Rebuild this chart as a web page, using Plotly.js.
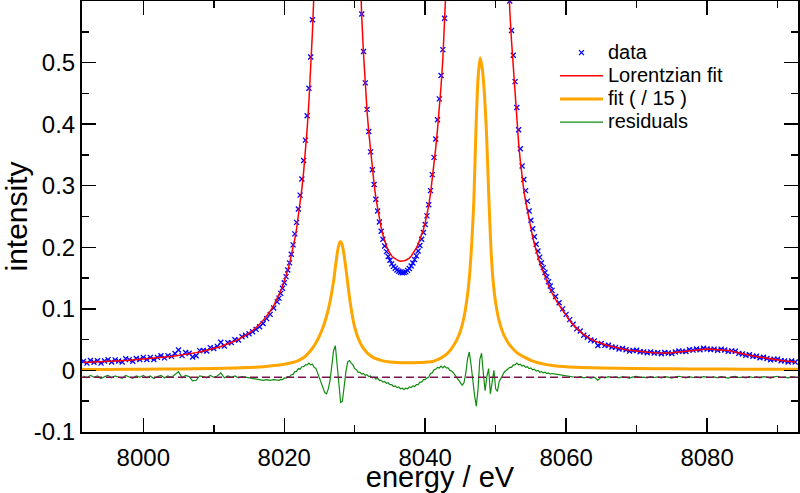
<!DOCTYPE html>
<html><head><meta charset="utf-8">
<script src="https://cdn.plot.ly/plotly-3.0.1.min.js"></script>
<style>html,body{margin:0;padding:0;background:#fff;} #chart{width:800px;height:493px;}</style>
</head><body><div id="chart"></div>
<script>
// energy grid of the measured points (eV)
const energy = [
7991.5,7992,7992.5,7993,7993.5,7994,7994.5,7995,7995.5,7996,7996.5,7997,7997.5,7998,7998.5,7999,7999.5,
8000,8000.5,8001,8001.5,8002,8002.5,8003,8003.5,8004,8004.5,8005,8005.5,8006,8006.5,8007,8007.5,8008,8008.5,8009,8009.5,
8010,8010.5,8011,8011.5,8012,8012.5,8013,8013.5,8014,8014.5,8015,8015.5,8016,8016.5,8017,8017.5,8018,8018.5,8019,
8019.25,8019.5,8019.75,
8020,8020.25,8020.5,8020.75,8021,8021.25,8021.5,8021.75,8022,8022.25,8022.5,8022.75,8023,8023.25,8023.5,8023.75,
8024,8024.25,8024.5,8024.75,8025,8025.25,8025.5,8025.75,8026,8026.25,8026.5,8026.75,8027,8027.25,8027.5,8027.75,
8028,8028.25,8028.5,8028.75,8029,8029.25,8029.5,8029.75,8030,8030.25,8030.5,8030.75,8031,8031.25,8031.5,8031.75,
8032,8032.25,8032.5,8032.75,8033,8033.25,8033.5,8033.75,8034,8034.25,8034.5,8034.75,8035,8035.25,8035.5,8035.75,
8036,8036.25,8036.5,8036.75,8037,8037.25,8037.5,8037.75,8038,8038.25,8038.5,8038.75,8039,8039.25,8039.5,8039.75,
8040,8040.25,8040.5,8040.75,8041,8041.25,8041.5,8041.75,8042,8042.25,8042.5,8042.75,8043,8043.25,8043.5,8043.75,
8044,8044.25,8044.5,8044.75,8045,8045.25,8045.5,8045.75,8046,8046.25,8046.5,8046.75,8047,8047.25,8047.5,8047.75,
8048,8048.25,8048.5,8048.75,8049,8049.25,8049.5,8049.75,8050,8050.25,8050.5,8050.75,8051,8051.25,8051.5,8051.75,
8052,8052.25,8052.5,8052.75,8053,8053.25,8053.5,8053.75,8054,8054.25,8054.5,8054.75,8055,8055.25,8055.5,8055.75,
8056,8056.25,8056.5,8056.75,8057,8057.25,8057.5,8057.75,8058,
8058.5,8059,8059.5,8060,8060.5,8061,8061.5,8062,8062.5,8063,8063.5,8064,8064.5,8065,8065.5,8066,8066.5,8067,8067.5,
8068,8068.5,8069,8069.5,8070,8070.5,8071,8071.5,8072,8072.5,8073,8073.5,8074,8074.5,8075,8075.5,8076,8076.5,8077,8077.5,
8078,8078.5,8079,8079.5,8080,8080.5,8081,8081.5,8082,8082.5,8083,8083.5,8084,8084.5,8085,8085.5,8086,8086.5,8087,8087.5,
8088,8088.5,8089,8089.5,8090,8090.5,8091,8091.5,8092,8092.5];

// measured intensity (blue crosses)
const measured = [
0.0147,0.0119,0.0161,0.0134,0.0156,0.0119,0.0152,0.0175,0.0138,0.0171,0.0154,0.0138,0.0191,0.0175,0.0149,0.0193,0.0177,
0.0212,0.0177,0.0212,0.0177,0.0212,0.0238,0.0204,0.0241,0.0228,0.0275,0.0333,0.0241,0.0290,0.0279,0.0219,0.0239,0.0321,0.0323,0.0316,0.0370,
0.0355,0.0391,0.0459,0.0398,0.0449,0.0452,0.0497,0.0495,0.0546,0.0570,0.0597,0.0629,0.0667,0.0710,0.0761,0.0841,0.0911,0.1014,0.1113,
0.1174,0.1251,0.1335,
0.1425,0.1523,0.1630,0.1747,0.1887,0.2039,0.2218,0.2404,0.2623,0.2847,0.3110,0.3410,0.3741,0.4136,0.4584,0.5091,
0.5695,0.6404,0.7266,0.828,0.955,1.112,1.314,1.578,1.926,2.364,2.908,3.552,4.186,4.684,4.852,4.624,
4.112,3.504,2.919,2.412,1.998,1.650,1.386,1.162,0.988,0.851,0.741,0.652,0.579,0.518,0.467,0.424,
0.388,0.355,0.326,0.302,0.278,0.259,0.241,0.226,0.213,0.202,0.193,0.185,0.179,0.173,0.169,0.166,
0.163,0.161,0.1595,0.1585,0.159,0.160,0.1625,0.1655,0.1695,0.1745,0.180,0.186,0.194,0.203,0.213,0.224,
0.237,0.251,0.269,0.292,0.318,0.346,0.376,0.407,0.441,0.479,0.521,0.572,0.631,0.699,0.777,0.870,
0.978,1.103,1.258,1.444,1.691,1.987,2.391,2.906,3.529,4.241,4.971,5.693,6.321,6.903,7.381,7.629,
7.539,7.106,6.478,5.801,5.014,4.173,3.441,2.811,2.281,1.857,1.543,1.279,1.075,0.909,0.781,0.678,
0.600,0.552,0.512,0.469,0.427,0.391,0.360,0.332,0.310,0.292,0.275,0.259,0.244,0.230,0.217,0.205,
0.194,0.184,0.175,0.167,0.159,0.152,0.144,0.137,0.130,
0.120,0.110,0.100,0.091,0.0825,0.075,0.0675,0.064,0.057,0.054,0.0495,0.048,0.0405,0.044,0.0407,0.041,0.038,0.0375,0.0348,
0.0357,0.0337,0.0313,0.0325,0.0328,0.0302,0.0301,0.0286,0.0301,0.0282,0.0289,0.0272,0.0292,0.0284,0.0273,0.0299,0.0316,0.0309,0.0308,0.0337,
0.0330,0.0347,0.0337,0.0359,0.0348,0.0340,0.0346,0.0328,0.0346,0.0333,0.0310,0.0317,0.0312,0.0277,0.0268,0.0246,0.0255,0.0230,0.0230,0.0205,
0.0215,0.0195,0.0171,0.0182,0.0184,0.0157,0.0155,0.0138,0.0152,0.0136];

// Lorentzian fit (red)
const lorentzFit = [
0.0127,0.0129,0.0131,0.0134,0.0136,0.0139,0.0142,0.0145,0.0148,0.0151,0.0154,0.0158,0.0161,0.0165,0.0169,0.0173,0.0177,
0.0182,0.0187,0.0192,0.0197,0.0202,0.0208,0.0214,0.0221,0.0228,0.0235,0.0243,0.0251,0.0260,0.0269,0.0279,0.0289,0.0301,0.0313,0.0326,0.0340,
0.0355,0.0371,0.0389,0.0408,0.0429,0.0452,0.0477,0.0505,0.0536,0.0570,0.0607,0.0649,0.0697,0.0750,0.0811,0.0881,0.0961,0.1054,0.1163,
0.1224,0.1291,0.1365,
0.1445,0.1533,0.1630,0.1737,0.1857,0.1989,0.2138,0.2304,0.2493,0.2707,0.2950,0.3230,0.3551,0.3926,0.4364,0.4881,
0.5495,0.6234,0.7126,0.822,0.957,1.123,1.333,1.603,1.953,2.383,2.913,3.533,4.143,4.633,4.833,4.643,
4.153,3.543,2.933,2.403,1.973,1.623,1.363,1.143,0.973,0.840,0.732,0.645,0.573,0.513,0.463,0.421,
0.386,0.354,0.326,0.303,0.280,0.262,0.245,0.232,0.220,0.210,0.202,0.195,0.190,0.186,0.183,0.181,
0.179,0.178,0.1775,0.1775,0.178,0.179,0.1805,0.1825,0.1855,0.1895,0.194,0.199,0.205,0.212,0.220,0.229,
0.240,0.253,0.268,0.287,0.310,0.335,0.362,0.392,0.425,0.462,0.505,0.555,0.615,0.685,0.765,0.860,
0.970,1.10,1.26,1.45,1.70,2.00,2.40,2.90,3.50,4.20,4.95,5.70,6.35,6.95,7.40,7.60,
7.50,7.10,6.50,5.80,5.00,4.20,3.45,2.80,2.30,1.88,1.55,1.28,1.07,0.90,0.77,0.665,
0.585,0.535,0.493,0.448,0.405,0.370,0.340,0.313,0.292,0.275,0.259,0.244,0.230,0.217,0.205,0.194,
0.184,0.175,0.167,0.159,0.152,0.145,0.138,0.131,0.125,
0.115,0.106,0.097,0.089,0.081,0.074,0.068,0.063,0.058,0.054,0.051,0.048,0.0455,0.0435,0.0417,0.040,0.0385,0.037,0.0358,
0.0347,0.0337,0.0328,0.032,0.0313,0.0307,0.0301,0.0296,0.0291,0.0287,0.0284,0.0282,0.0282,0.0284,0.0288,0.0294,0.0301,0.0309,0.0318,0.0327,
0.0335,0.0342,0.0347,0.0349,0.0348,0.0345,0.0341,0.0338,0.0336,0.0333,0.0325,0.0312,0.0297,0.0282,0.0268,0.0256,0.0245,0.0235,0.0225,0.0215,
0.0205,0.0195,0.0186,0.0177,0.0169,0.0162,0.0155,0.0148,0.0142,0.0136];

// residuals (green), shown around the offset baseline
const residuals = [
-0.009,-0.012,-0.008,-0.011,-0.009,-0.013,-0.010,-0.008,-0.012,-0.009,-0.011,-0.013,-0.008,-0.010,-0.013,-0.009,-0.011,
-0.008,-0.012,-0.009,-0.013,-0.010,-0.008,-0.012,-0.009,-0.011,-0.007,-0.002,-0.012,-0.008,-0.010,-0.017,-0.016,-0.009,-0.010,-0.012,-0.008,
-0.011,-0.009,-0.004,-0.012,-0.009,-0.011,-0.009,-0.012,-0.010,-0.011,-0.012,-0.013,-0.014,-0.015,-0.016,-0.015,-0.016,-0.015,-0.016,
-0.016,-0.0145,-0.015,
-0.012,-0.0125,-0.010,-0.0105,-0.007,-0.0065,-0.002,-0.0015,0.003,0.002,0.006,0.006,0.009,0.009,0.012,0.009,
0.010,0.005,0.003,-0.005,-0.013,-0.022,-0.030,-0.036,-0.038,-0.030,-0.016,0.008,0.032,0.040,0.008,-0.030,
-0.052,-0.050,-0.025,-0.002,0.014,0.016,0.012,0.009,0.003,0.001,-0.003,-0.003,-0.006,-0.005,-0.008,-0.007,
-0.010,-0.009,-0.012,-0.011,-0.014,-0.013,-0.016,-0.016,-0.019,-0.018,-0.021,-0.020,-0.023,-0.023,-0.026,-0.025,
-0.028,-0.027,-0.030,-0.029,-0.031,-0.029,-0.030,-0.027,-0.028,-0.025,-0.026,-0.023,-0.023,-0.019,-0.019,-0.015,
-0.015,-0.012,-0.011,-0.005,-0.004,0.001,0.002,0.005,0.004,0.007,0.004,0.007,0.004,0.004,0.000,-0.001,
-0.004,-0.008,-0.013,-0.017,-0.020,-0.024,-0.020,-0.005,0.018,0.030,0.010,-0.018,-0.040,-0.058,-0.030,0.018,
0.028,-0.005,-0.033,-0.010,0.003,-0.038,-0.020,0.000,-0.030,-0.034,-0.018,-0.012,-0.006,-0.002,0.000,0.002,
0.005,0.005,0.009,0.009,0.012,0.009,0.010,0.007,0.008,0.005,0.006,0.003,0.004,0.001,0.002,-0.001,
0.000,-0.003,-0.002,-0.004,-0.003,-0.005,-0.004,-0.006,-0.005,
-0.006,-0.007,-0.008,-0.009,-0.0095,-0.010,-0.0115,-0.010,-0.012,-0.011,-0.0125,-0.011,-0.016,-0.0105,-0.012,-0.010,-0.0115,-0.0105,-0.012,
-0.010,-0.011,-0.0125,-0.0105,-0.0095,-0.0115,-0.011,-0.012,-0.010,-0.0115,-0.0105,-0.012,-0.010,-0.011,-0.0125,-0.0105,-0.0095,-0.011,-0.012,-0.010,
-0.0115,-0.0105,-0.012,-0.010,-0.011,-0.0115,-0.0105,-0.012,-0.010,-0.011,-0.0125,-0.0105,-0.0095,-0.0115,-0.011,-0.012,-0.010,-0.0115,-0.0105,-0.012,
-0.010,-0.011,-0.0125,-0.0105,-0.0095,-0.0115,-0.011,-0.012,-0.010,-0.011];
const residualBaseline = -0.011;

// fit divided by 15 (orange)
const scaledFitEnergy = [7991.3,7995,8000,8005,8010,8013,8015,8017,8018,8019,8020,8021,8022,8023,8023.5,8024,8024.5,8025,8025.5,8026,8026.5,8027,8027.3,8027.6,8027.9,8028.1,8028.4,8028.7,8029,8029.3,8029.6,8030,8030.5,8031,8031.5,8032,8032.5,8033,8034,8035,8036,8037,8038,8039,8040,8041,8041.5,8042,8042.5,8043,8043.5,8044,8044.5,8045,8045.5,8046,8046.3,8046.6,8046.9,8047.2,8047.5,8047.8,8048.1,8048.4,8048.7,8049,8049.3,8049.6,8050,8050.5,8051,8051.5,8052,8053,8054,8055,8056,8057,8058,8060,8062,8065,8070,8075,8080,8085,8092.9];
const scaledFit = [0.0015,0.0017,0.002,0.0024,0.003,0.0038,0.0046,0.006,0.0072,0.0085,0.0102,0.0125,0.016,0.023,0.029,0.036,0.045,0.056,0.07,0.088,0.112,0.145,0.172,0.196,0.209,0.208,0.194,0.17,0.142,0.115,0.093,0.07,0.052,0.04,0.032,0.026,0.022,0.019,0.0155,0.0138,0.0128,0.0124,0.0124,0.0127,0.0133,0.0145,0.0163,0.0188,0.022,0.026,0.032,0.040,0.050,0.064,0.086,0.122,0.155,0.205,0.275,0.39,0.475,0.508,0.49,0.45,0.385,0.29,0.205,0.15,0.11,0.08,0.062,0.05,0.041,0.029,0.022,0.0165,0.0125,0.0098,0.008,0.0058,0.0047,0.0038,0.003,0.0026,0.0023,0.0021,0.0018];

const xTickVals = [8000, 8020, 8040, 8060, 8080];
const xTickText = ['8000', '8020', '8040', '8060', '8080'];
const yTickVals = [-0.1, 0, 0.1, 0.2, 0.3, 0.4, 0.5];
const yTickText = ['-0.1', '0', '0.1', '0.2', '0.3', '0.4', '0.5'];
const seriesNames = ['data', 'Lorentzian fit', 'fit ( / 15 )', 'residuals'];

const FONT = 'Liberation Sans, Arial, Helvetica, sans-serif';
const legendLabel = s => '<span style="font-size:20px">' + s + '</span>';

const traces = [
  {type:'scatter', mode:'markers', name:legendLabel(seriesNames[0]), x:energy, y:measured,
   marker:{symbol:'x-thin-open', size:5, color:'#0000ff', line:{width:1.3, color:'#0000ff'}}},
  {type:'scatter', mode:'lines', name:legendLabel(seriesNames[1]), x:energy, y:lorentzFit,
   line:{color:'#ff0000', width:1.5}},
  {type:'scatter', mode:'lines', name:legendLabel(seriesNames[2]), x:scaledFitEnergy, y:scaledFit,
   line:{color:'#ffa500', width:3, shape:'spline', smoothing:0.5}},
  {type:'scatter', mode:'lines', name:legendLabel(seriesNames[3]), x:energy, y:residuals,
   line:{color:'#118c11', width:1.2}}
];

const axisCommon = {
  showline:true, linewidth:2, linecolor:'black', mirror:'ticks',
  ticks:'inside', ticklen:14, tickwidth:1.5, tickcolor:'black',
  showgrid:false, zeroline:false, tickfont:{size:24, color:'black', family:FONT},
  automargin:false
};

const layout = {
  width:800, height:493,
  margin:{l:82, r:2, t:1, b:61},
  paper_bgcolor:'white', plot_bgcolor:'white',
  font:{family:FONT, color:'black'},
  showlegend:true,
  legend:{x:0.6606, y:0.9186, xanchor:'left', yanchor:'top', bgcolor:'rgba(0,0,0,0)',
          itemwidth:43, font:{size:15.5, color:'black', family:FONT}},
  xaxis: Object.assign({}, axisCommon, {
    range:[7991.3, 8092.9], tickmode:'array', tickvals:xTickVals, ticktext:xTickText,
    ticklabelstandoff:3,
    minor:{ticks:'inside', ticklen:7, tickwidth:1.5, tickcolor:'black', tick0:8000, dtick:10, showgrid:false},
    title:{text:'energy / eV', font:{size:29, color:'black', family:FONT}, standoff:0}
  }),
  yaxis: Object.assign({}, axisCommon, {
    range:[-0.1, 0.6], tickmode:'array', tickvals:yTickVals, ticktext:yTickText,
    minor:{ticks:'inside', ticklen:7, tickwidth:1.5, tickcolor:'black', tick0:0, dtick:0.05, showgrid:false},
    title:{text:'intensity', font:{size:30, color:'black', family:FONT}, standoff:8}
  }),
  shapes:[{type:'line', xref:'paper', x0:0, x1:1, yref:'y', y0:residualBaseline, y1:residualBaseline,
           line:{color:'#7a1450', width:1.5, dash:'8px,4px'}, layer:'above'}]
};

Plotly.newPlot('chart', traces, layout, {staticPlot:true, displayModeBar:false});
</script>
</body></html>
